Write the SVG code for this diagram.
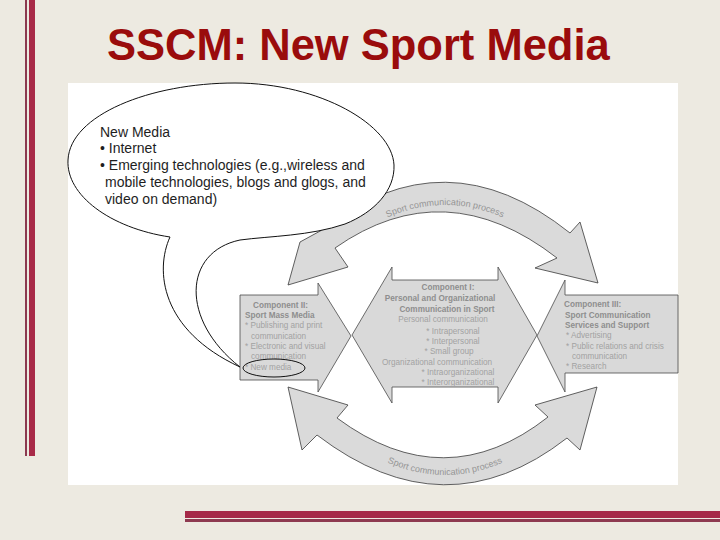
<svg xmlns="http://www.w3.org/2000/svg" width="720" height="540" viewBox="0 0 720 540">
<defs>
<style>
.title{font-family:"Liberation Sans",Arial,sans-serif;font-weight:bold;font-size:43.5px;fill:#9a0c0c}
.bub{font-family:"Liberation Sans",Arial,sans-serif;font-size:14px;fill:#1e1e1e}
.shape{fill:#dadada;stroke:#3a3a3a;stroke-width:0.8;stroke-linejoin:miter}
.comp{fill:#d9d9d9;stroke:#4a4a4a;stroke-width:0.8}
.hd{font-family:"Liberation Sans",Arial,sans-serif;font-size:8.2px;font-weight:bold;fill:#8e8e8e}
.it{font-family:"Liberation Sans",Arial,sans-serif;font-size:8.2px;fill:#a2a2a2}
.arcl{font-family:"Liberation Sans",Arial,sans-serif;font-size:9px;fill:#959595}
.line{fill:none;stroke:#111;stroke-width:1}
</style>
<path id="topPath" d="M 370,226 Q 445,184 520,226"/>
<path id="botPath" d="M 372,455 Q 445,495 518,455"/>
</defs>
<rect x="0" y="0" width="720" height="540" fill="#edeae1"/>
<g id="decor">
<rect x="25" y="0" width="2" height="456" fill="#8c3a50"/>
<rect x="29" y="0" width="6" height="456" fill="#a82a48"/>
<rect x="185" y="511" width="535" height="7" fill="#a52a48"/>
<rect x="185" y="519" width="535" height="3" fill="#8e3a50"/>
</g>
<text class="title" x="107" y="60">SSCM: New Sport Media</text>
<rect x="68" y="83" width="610" height="402" fill="#ffffff"/>

<g id="connectors">
<g id="top-arc">
<path class="shape" d="M 322,230 Q 445,133 570,233 L 580,222 L 598,283 L 535,268 L 557,258 Q 445,171 335,248 L 348,267 L 288,285 L 300,242 Z"/>
<text class="arcl"><textPath href="#topPath" startOffset="50%" text-anchor="middle">Sport communication process</textPath></text>
</g>
<g id="bottom-arc">
<path class="shape" d="M 288,387 L 348,405 L 337,418 Q 445,498 548,417 L 535,405 L 597,387 L 580,450 L 567,438 Q 445,533 317,435 L 302,450 Z"/>
<text class="arcl"><textPath href="#botPath" startOffset="50%" text-anchor="middle">Sport communication process</textPath></text>
</g>
</g>

<g id="component-2">
<path class="comp" d="M 240,295 L 318,295 L 318,283 L 351,336 L 318,392 L 318,380 L 240,380 Z"/>
<text class="hd" x="253" y="308">Component II:</text>
<text class="hd" x="245" y="318.2" fill="#858585">Sport Mass Media</text>
<text class="it" x="245" y="328.4">* Publishing and print</text>
<text class="it" x="251" y="338.6">communication</text>
<text class="it" x="245" y="348.8">* Electronic and visual</text>
<text class="it" x="251" y="359">communication</text>
<text class="it" x="245" y="369.5">* New media</text>
</g>

<g id="component-1">
<path class="comp" d="M 352,335 L 392,267 L 392,280 L 498,280 L 498,267 L 537,335 L 498,403 L 498,387 L 392,387 L 392,403 Z"/>
<text class="hd" x="448" y="290" text-anchor="middle">Component I:</text>
<text class="hd" x="440" y="301" text-anchor="middle" fill="#858585">Personal and Organizational</text>
<text class="hd" x="447" y="312" text-anchor="middle" fill="#858585">Communication in Sport</text>
<text class="it" x="443" y="322" text-anchor="middle">Personal communication</text>
<text class="it" x="453" y="334" text-anchor="middle">* Intrapersonal</text>
<text class="it" x="453" y="344" text-anchor="middle">* Interpersonal</text>
<text class="it" x="449" y="354" text-anchor="middle">* Small group</text>
<text class="it" x="437" y="365" text-anchor="middle">Organizational communication</text>
<text class="it" x="458" y="375" text-anchor="middle">* Intraorganizational</text>
<text class="it" x="458" y="385" text-anchor="middle">* Interorganizational</text>
</g>

<g id="component-3">
<path class="comp" d="M 678,295 L 565,295 L 565,280 L 537,336 L 565,392 L 565,373 L 678,373 Z"/>
<text class="hd" x="564" y="307">Component III:</text>
<text class="hd" x="565" y="317.5" fill="#858585">Sport Communication</text>
<text class="hd" x="565" y="328" fill="#858585">Services and Support</text>
<text class="it" x="566" y="338">* Advertising</text>
<text class="it" x="566" y="348.5">* Public relations and crisis</text>
<text class="it" x="572" y="358.5">communication</text>
<text class="it" x="566" y="369">* Research</text>
</g>

<g id="new-media-bubble">
<path d="M 170,237 C 110,228 66,195 68,160 C 70,115 150,83 235,83 C 320,83 392,125 394,165 C 395,190 375,212 345,224 C 310,236 270,236 240,240 C 183,252 180,320 240,367 C 160,330 155,270 170,237 Z" fill="#ffffff" stroke="#111" stroke-width="1"/>
<text class="bub" x="100" y="136.5">New Media</text>
<text class="bub" x="100" y="153">• Internet</text>
<text class="bub" x="100" y="170">• Emerging technologies (e.g.,wireless and</text>
<text class="bub" x="105" y="187">mobile technologies, blogs and glogs, and</text>
<text class="bub" x="105" y="204">video on demand)</text>
<ellipse class="line" cx="274" cy="368" rx="31" ry="9"/>
</g>
</svg>
